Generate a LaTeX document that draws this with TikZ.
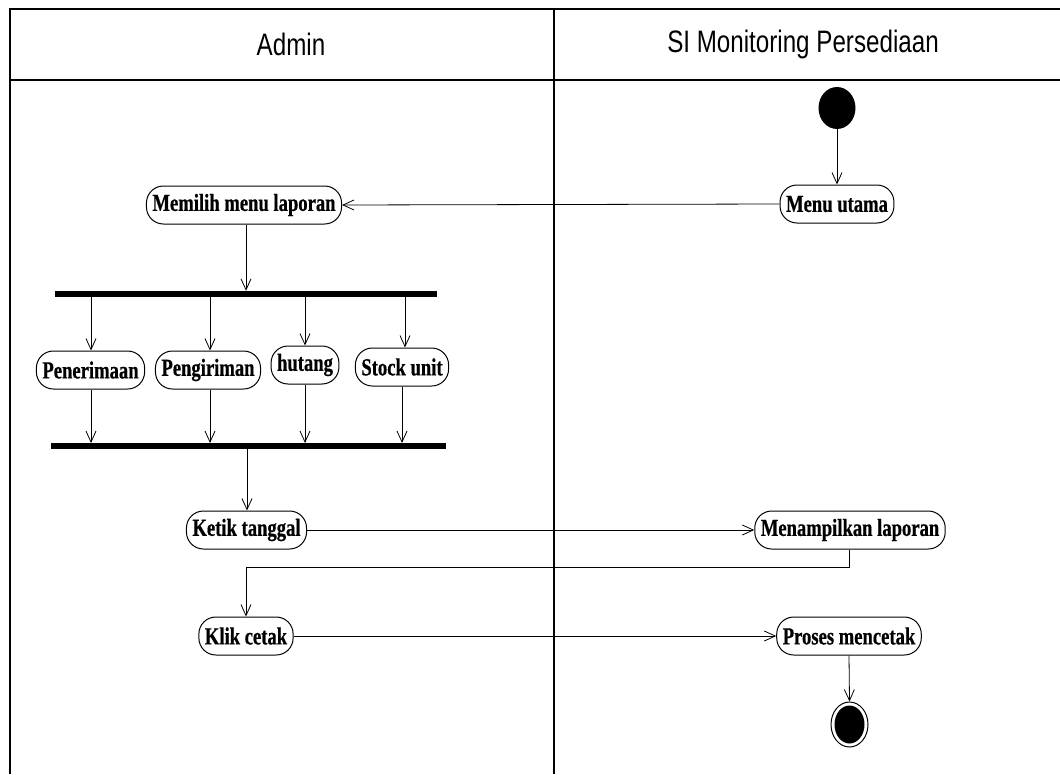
\documentclass[tikz,border=0pt]{standalone}
\usepackage{fontspec}
\usetikzlibrary{arrows.meta,shapes.geometric}
\newfontfamily\actfont[FakeStretch=0.76,FakeBold=0.6]{Liberation Serif}
\newfontfamily\lanefont[FakeStretch=0.78]{Liberation Sans}
\begin{document}
\begin{tikzpicture}[x=1pt,y=-1pt,
  lane/.style={line width=1.6pt,black},
  act/.style={draw,line width=1pt,rounded corners=17pt,inner xsep=6pt,inner ysep=0pt,
    minimum height=38pt,font=\actfont\bfseries\fontsize{24.5}{24.5}\selectfont},
  bar/.style={fill=black,inner sep=0pt,minimum height=6pt},
  arr/.style={draw,line width=0.8pt,-{Straight Barb[length=11pt,width=10pt]}},
  lanetitle/.style={font=\lanefont\fontsize{31}{31}\selectfont}]
\useasboundingbox (0,0) rectangle (1060,774);
% swimlane frame
\draw[lane] (10,774) -- (10,9) -- (1060,9);
\draw[lane] (10,80) -- (1060,80);
\draw[line width=1.4pt] (554,9) -- (554,774);
\node[lanetitle] (laneA) at (291,44) {Admin};
\node[lanetitle] (laneB) at (803,44) {SI Monitoring Persediaan};
% initial and final states
\node[ellipse,fill=black,inner sep=0pt,minimum width=37pt,minimum height=42pt] (start) at (837,108) {};
\node[ellipse,draw,line width=1pt,fill=white,inner sep=0pt,minimum width=37pt,minimum height=45pt] (stop) at (849.5,724.5) {};
\node[ellipse,fill=black,inner sep=0pt,minimum width=30pt,minimum height=38pt] (stopin) at (849.5,724.5) {};
% activities
\node[act] (menu) at (837,204) {Menu utama};
\node[act] (pilih) at (244,205) {Memilih menu laporan};
\node[act] (terima) at (90.5,370) {Penerimaan};
\node[act] (kirim) at (208,370) {Pengiriman};
\node[act] (hutang) at (305,365) {hutang};
\node[act] (stock) at (402,367) {Stock unit};
\node[act] (ketik) at (246.5,530) {Ketik tanggal};
\node[act] (tampil) at (850,530) {Menampilkan laporan};
\node[act] (klik) at (246,636) {Klik cetak};
\node[act] (proses) at (849,636) {Proses mencetak};
% fork and join bars
\node[bar,minimum width=382pt] (fork) at (246,294) {};
\node[bar,minimum width=395pt] (join) at (248.5,446) {};
% flows
\draw[arr] (start.south) -- (menu.north);
\draw[arr] (menu.west) -- (pilih.east);
\draw[arr] (pilih.south -| fork.north) -- (fork.north);
\foreach \n/\x in {terima/91,kirim/210,hutang/305,stock/405}{
  \draw[arr] (\x,297) -- (\x,0 |- \n.north);
}
\foreach \n/\x in {terima/91,kirim/210,hutang/305,stock/402}{
  \draw[arr] (\x,0 |- \n.south) -- (\x,443);
}
\draw[arr] (247,449) -- (247,0 |- ketik.north);
\draw[arr] (ketik.east) -- (tampil.west);
\draw[arr] (849,0 |- tampil.south) -- (849,567) -| (klik.north);
\draw[arr] (klik.east) -- (proses.west);
\draw[arr] (proses.south) -- (stop.north);
\end{tikzpicture}
\end{document}
